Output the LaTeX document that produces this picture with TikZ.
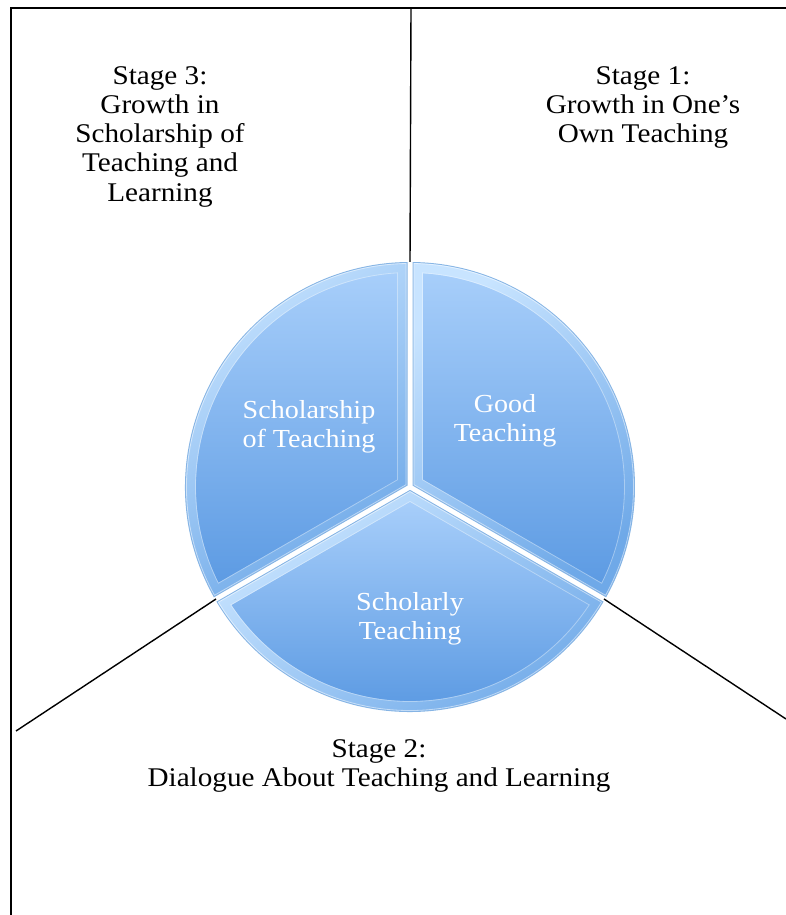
\documentclass[tikz,border=0pt]{standalone}
\usepackage{fontspec}
\setmainfont{Liberation Serif}[FakeStretch=1.08]
\usetikzlibrary{calc}

\definecolor{bandtop}{HTML}{C8E4FF}
\definecolor{bandbot}{HTML}{6FA9E8}
\definecolor{facetop}{HTML}{A7CEFA}
\definecolor{facebot}{HTML}{5D9BE3}
\definecolor{rim}{HTML}{86B4E4}

% wedge of a three-part pie: #1 bisector angle, #2 inset from the cut edges, #3 radius
\newcommand\wedgepath[3]{(#1:{1.1547*(#2)}) -- ({#1+60-asin((#2)/(#3))}:#3)
  arc[start angle={#1+60-asin((#2)/(#3))}, end angle={#1-60+asin((#2)/(#3))}, radius=#3] -- cycle}

\begin{document}
\begin{tikzpicture}[x=1pt,y=1pt,
  framerule/.style={line width=2pt, black},
  spoke/.style={line width=1.4pt, black},
  stagetext/.style={align=center, font=\fontsize{27}{29.3}\selectfont, inner sep=0pt, anchor=north},
  slicetext/.style={align=center, font=\fontsize{26}{29.5}\selectfont, text=white, inner sep=0pt},
  bevel/.style={top color=bandtop, bottom color=bandbot, shading angle=35},
  face/.style={top color=facetop, bottom color=facebot},
]
\useasboundingbox (0,0) rectangle (786,915);

% frame and pie anchor points
\coordinate (c) at (410,428);
\coordinate (frameTL) at (11,906.5);
\coordinate (frameTR) at (786,906.5);
\coordinate (frameBL) at (11,0);
\coordinate (midtop) at (411,906.5);
\coordinate (llend) at (16,184);
\coordinate (lrend) at (786,196);
\coordinate (ptop) at ($(c)+(90:225)$);
\coordinate (pleft) at ($(c)+(210:224)$);
\coordinate (pright) at ($(c)+(-30:224)$);

% outer frame: left side and top
\draw[framerule, line join=miter] (frameBL) -- (frameTL) -- (frameTR);
% dividing lines
\draw[spoke] (midtop) -- (ptop);
\draw[spoke] (pleft) -- (llend);
\draw[spoke] (pright) -- (lrend);

% the three bevelled wedges
\begin{scope}[shift={(c)}]
  \foreach \b in {30,150,270}{
    \fill[rim] \wedgepath{\b}{2.5}{225};
    \shade[bevel] \wedgepath{\b}{3.5}{224};
    \shade[face] \wedgepath{\b}{13}{214};
    \draw[white, opacity=0.35, line width=0.8pt] \wedgepath{\b}{12.5}{214.5};
    \draw[white, opacity=0.5, line width=0.8pt] \wedgepath{\b}{4}{223.5};
  }
\end{scope}

% wedge labels
\node[slicetext] (lblsot) at (309,488) {Scholarship\\of Teaching};
\node[slicetext] (lblgood) at (505,494) {Good\\Teaching};
\node[slicetext] (lblscholarly) at (410,296) {Scholarly\\Teaching};

% stage captions
\node[stagetext] (s3) at (160,849) {Stage 3:\\Growth in\\Scholarship of\\Teaching and\\Learning};
\node[stagetext] (s1) at (643,849) {Stage 1:\\Growth in One’s\\Own Teaching};
\node[stagetext] (s2) at (379,176) {Stage 2:\\Dialogue About Teaching and Learning};
\end{tikzpicture}
\end{document}
